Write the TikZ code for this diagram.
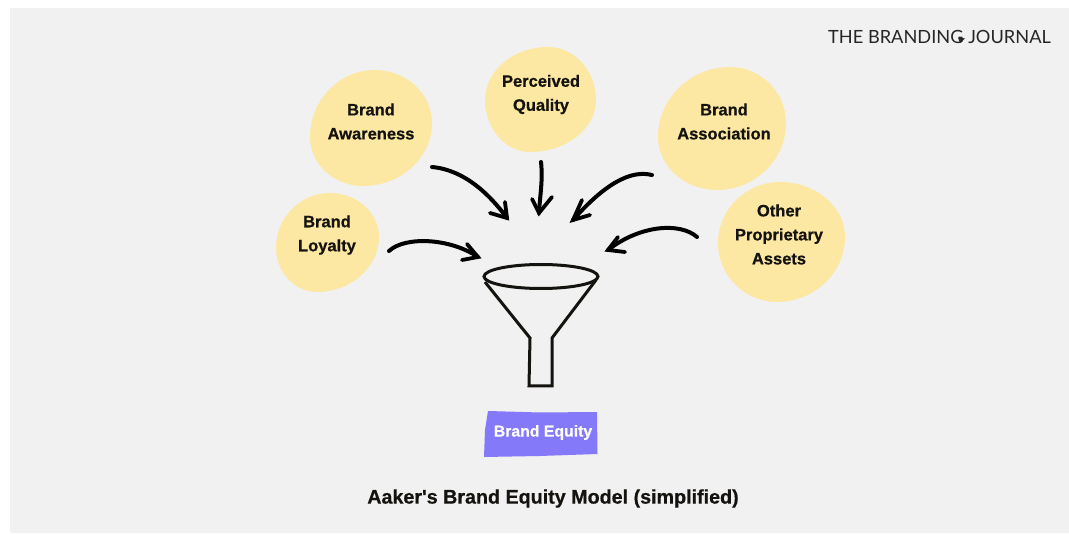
\documentclass[tikz,border=0pt]{standalone}
\usepackage{fontspec}
\setmainfont{Liberation Sans}
\newfontfamily\lsf[BoldFeatures={FakeBold=0.6}]{Liberation Sans}
\newfontfamily\logofont{Lato}
\usetikzlibrary{calc}
\definecolor{bgc}{HTML}{F1F1F1}
\definecolor{blobc}{HTML}{FCE8A3}
\definecolor{purp}{HTML}{8479F8}
\definecolor{inkc}{HTML}{15130F}
\tikzset{
  x=1pt,y=-1pt,
  blob/.style={fill=blobc,draw=none},
  lbl/.style={font=\lsf\bfseries\fontsize{16.5}{24}\selectfont,text=inkc,align=center,inner sep=0pt},
  flow/.style={draw=black,line width=4pt,line cap=round,line join=round},
  barb/.style={draw=black,line width=3.8pt,line cap=round,line join=miter},
  funnelline/.style={draw=inkc,line width=3pt,line join=miter},
}
% left right top bottom topx righty bottomx lefty
\newcommand\blobshape[8]{%
  \fill[blob] (#5,#3)
   .. controls ({#5+.55*(#2-#5)},#3) and (#2,{#6-.55*(#6-#3)}) .. (#2,#6)
   .. controls (#2,{#6+.55*(#4-#6)}) and ({#7+.55*(#2-#7)},#4) .. (#7,#4)
   .. controls ({#7-.55*(#7-#1)},#4) and (#1,{#8+.55*(#4-#8)}) .. (#1,#8)
   .. controls (#1,{#8-.55*(#8-#3)}) and ({#5-.55*(#5-#1)},#3) .. cycle;}
\begin{document}
\begin{tikzpicture}
\useasboundingbox (0,0) rectangle (1069,534);
\fill[white] (0,0) rectangle (1069,534);
\fill[bgc] (10,8) rectangle (1069,533);
% blobs
\blobshape{310}{432}{70}{186}{375}{123}{363}{137}
\blobshape{276}{379}{193}{292}{330}{237}{317}{248}
\blobshape{485}{596}{47}{152}{548}{100}{530}{100}
\blobshape{658}{786}{67}{190}{730}{123}{717}{137}
\blobshape{718}{845}{182}{302}{780}{237}{777}{243}
% labels
\node[lbl] (aware) at (371,121.5) {Brand\\Awareness};
\node[lbl] (loyal) at (327,235) {Brand\\Loyalty};
\node[lbl] (qual) at (541,94.5) {Perceived\\Quality};
\node[lbl] (assoc) at (724,121.5) {Brand\\Association};
\node[lbl] (other) at (779,234.5) {Other\\Proprietary\\Assets};
% arrow anchors
\coordinate (sA) at (432,167); \coordinate (eA) at (507,218);
\coordinate (sQ) at (541,162); \coordinate (eQ) at (539,213);
\coordinate (sL) at (389,251); \coordinate (eL) at (478,257);
\coordinate (sS) at (652,175); \coordinate (eS) at (573,220);
\coordinate (sO) at (697,237); \coordinate (eO) at (608,250);
% arrows
\draw[flow] (sA) .. controls (465,170) and (490,195) .. (eA);
\draw[barb] (490,213) -- (eA) -- (505,202);
\draw[flow] (sQ) .. controls (543,180) and (540,195) .. (eQ);
\draw[barb] (532,199) -- (eQ) -- (552,197);
\draw[flow] (sL) .. controls (405,236) and (450,238) .. (eL);
\draw[barb] (467,244) -- (eL) -- (462,260);
\draw[flow] (sS) .. controls (625,168) and (595,195) .. (eS);
\draw[barb] (590,215) -- (eS) -- (582,200);
\draw[flow] (sO) .. controls (680,222) and (640,225) .. (eO);
\draw[barb] (625,252) -- (eO) -- (618,237);
% funnel
\draw[funnelline] (541,276.5) ellipse [x radius=57, y radius=12];
\draw[funnelline] (485,282) -- (530,338) -- (529,386) -- (552,386) -- (552,338) -- (596,280);
% result
\fill[purp] (488,411) -- (540,412.5) -- (597,412) -- (597.5,454) -- (540,456) -- (484,457) -- (485,430) -- cycle;
\node[lbl,text=white,font=\lsf\bfseries\fontsize{15.8}{20}\selectfont] (eq) at (543,432.5) {Brand Equity};
\node[lbl,font=\lsf\bfseries\fontsize{19.7}{24}\selectfont] (title) at (553,498.5) {Aaker's Brand Equity Model (simplified)};
\node[inner sep=0pt,text=black!85,font=\logofont\fontsize{18.2}{20}\selectfont] (logo) at (939.5,37) {THE BRANDING JOURNAL};
\fill[black!85] (958,37.5) -- (965,38.5) -- (960,43) -- cycle;
\end{tikzpicture}
\end{document}
